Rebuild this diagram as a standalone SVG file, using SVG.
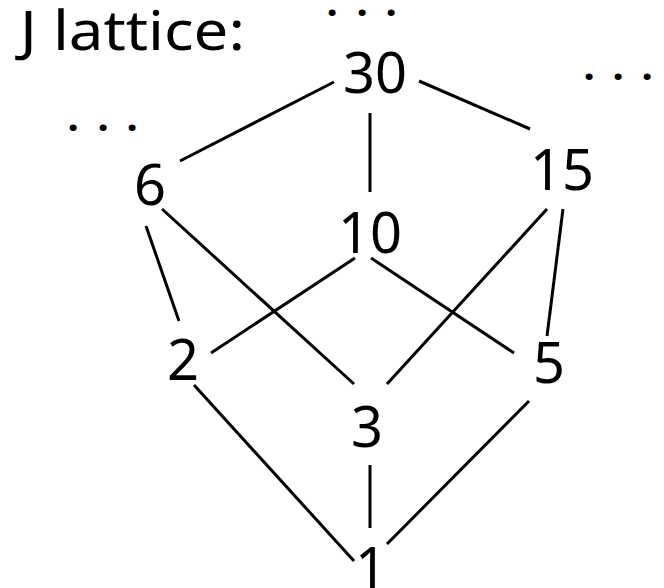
<svg xmlns="http://www.w3.org/2000/svg" width="664" height="588" viewBox="0 0 664 588">
<style>
.lbl{font-family:"Comic Sans MS","Noto Sans","DejaVu Sans",sans-serif;font-size:56px;fill:#000;text-anchor:middle}
.ttl{font-family:"Comic Sans MS","Noto Sans","DejaVu Sans",sans-serif;font-size:54px;fill:#000}
.dots{font-family:"Noto Sans","DejaVu Sans",sans-serif;font-size:40px;fill:#000;text-anchor:middle;font-weight:bold}
.edge{stroke:#000;stroke-width:3;stroke-linecap:butt;fill:none}
</style>
<rect width="664" height="588" fill="#fff"/>
<text class="ttl" x="20" y="50" textLength="225" lengthAdjust="spacingAndGlyphs">J lattice:</text>
<text class="dots" x="332 362 391" y="16">...</text>
<text class="dots" x="589 618 647" y="80">...</text>
<text class="dots" x="73 103 132" y="131">...</text>
<g id="connectors">
<line class="edge" x1="180" y1="161" x2="334" y2="82"/>
<line class="edge" x1="419" y1="81" x2="530" y2="129"/>
<line class="edge" x1="370" y1="113" x2="370" y2="192"/>
<line class="edge" x1="146" y1="226" x2="179" y2="321"/>
<line class="edge" x1="162" y1="209" x2="354" y2="384"/>
<line class="edge" x1="355" y1="258" x2="211" y2="353"/>
<line class="edge" x1="371" y1="258" x2="514" y2="353"/>
<line class="edge" x1="547" y1="209" x2="387" y2="384"/>
<line class="edge" x1="563" y1="209" x2="547" y2="336"/>
<line class="edge" x1="194" y1="385" x2="354" y2="561"/>
<line class="edge" x1="370" y1="465" x2="370" y2="528"/>
<line class="edge" x1="529" y1="401" x2="387" y2="544"/>
</g>
<g id="n30"><text class="lbl" x="375" y="93">30</text></g>
<g id="n6"><text class="lbl" x="150" y="205">6</text></g>
<g id="n15"><text class="lbl" x="562" y="190">15</text></g>
<g id="n10"><text class="lbl" x="370" y="253">10</text></g>
<g id="n2"><text class="lbl" x="183" y="380">2</text></g>
<g id="n5"><text class="lbl" x="549" y="383">5</text></g>
<g id="n3"><text class="lbl" x="367" y="447">3</text></g>
<g id="n1"><text class="lbl" x="371" y="588">1</text></g>
</svg>
